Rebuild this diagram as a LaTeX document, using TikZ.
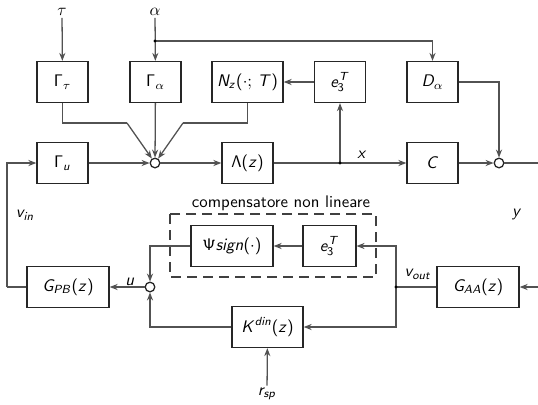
\documentclass[tikz,border=0pt]{standalone}
\usetikzlibrary{arrows.meta}
\usepackage{fix-cm}
\renewcommand\familydefault{\sfdefault}
\DeclareMathAlphabet{\mathsfsl}{OT1}{cmss}{m}{sl}
\newcommand\sfp[1]{\mbox{\sffamily #1}}
\newcommand\bodyfont{\fontsize{10.5}{12.6}\selectfont\sffamily}
\begin{document}
\begin{tikzpicture}[x=0.625pt,y=-0.625pt,
  line width=0.8pt,
  every node/.style={font=\bodyfont},
  wire/.style={draw=black!68},
  arr/.style={wire,-{Stealth[length=5pt,width=3.8pt]}},
  blk/.style={draw=black!85,line width=0.8pt,minimum width=31.9pt,minimum height=25.6pt,inner sep=0pt},
  wideblk/.style={blk,minimum width=44.4pt},
  widerblk/.style={blk,minimum width=51.25pt},
  sumn/.style={circle,draw=black!85,fill=white,minimum size=6pt,inner sep=0pt},
  dotn/.style={circle,fill=black,minimum size=2pt,inner sep=0pt},
  lbl/.style={inner sep=1pt}]
\useasboundingbox (0,0) rectangle (538,404);
% top row
\node[blk] (Gt) at (62.5,82) {$\mathsf{\Gamma}_\tau$};
\node[blk] (Ga) at (155.5,82) {$\mathsf{\Gamma}_\alpha$};
\node[wideblk] (Nz) at (247.5,82) {$\mathsfsl{N_z}\sfp{(}{\cdot};\,\mathsfsl{T}\sfp{)}$};
\node[blk] (E1) at (340,82) {$\mathsfsl{e}_{\mathsf{3}}^{\mathsfsl{T}}$};
\node[blk] (Da) at (432.5,82) {$\mathsfsl{D}_\alpha$};
% middle row
\node[blk] (Gu) at (62.5,163) {$\mathsf{\Gamma}_{\mathsfsl{u}}$};
\node[sumn] (s1) at (155,163) {};
\node[blk] (La) at (247.5,163) {$\mathsf{\Lambda}\sfp{(}\mathsfsl{z}\sfp{)}$};
\node[blk] (C) at (432.5,163) {$\mathsfsl{C}$};
\node[sumn] (s2) at (499,163) {};
% bottom
\node[widerblk] (GPB) at (68,287) {$\mathsfsl{G_{PB}}\sfp{(}\mathsfsl{z}\sfp{)}$};
\node[sumn] (s3) at (150,287) {};
\node[widerblk] (Psi) at (232,246) {$\mathsf{\Psi}\mathsfsl{sign}\sfp{(}{\cdot}\sfp{)}$};
\node[blk,minimum width=33pt] (E2) at (329.5,246) {$\mathsfsl{e}_{\mathsf{3}}^{\mathsfsl{T}}$};
\node[widerblk] (GAA) at (478,287) {$\mathsfsl{G_{AA}}\sfp{(}\mathsfsl{z}\sfp{)}$};
\node[wideblk] (K) at (267.5,327) {$\mathsfsl{K}^{\mathsfsl{din}}\sfp{(}\mathsfsl{z}\sfp{)}$};
% dashed compensator
\draw[draw=black!75,dash pattern=on 6pt off 4pt] (170,214) rectangle (376,277);
\node[lbl] (comp) at (281,203) {compensatore non lineare};
% labels
\node[lbl] (tau) at (62,12) {$\tau$};
\node[lbl] (alpha) at (155,12) {$\alpha$};
\node[lbl] (rsp) at (267,394) {$\mathsfsl{r_{sp}}$};
\node[lbl] at (362,155) {$\mathsfsl{x}$};
\node[lbl] at (25,215) {$\mathsfsl{v_{in}}$};
\node[lbl] at (517,214) {$\mathsfsl{y}$};
\node[lbl] at (130,282) {$\mathsfsl{u}$};
\node[lbl] at (418,274) {$\mathsfsl{v_{out}}$};
% coordinates
\coordinate (ab) at (155,41);
\coordinate (xb) at (340,163);
\coordinate (vb) at (396,287);
\coordinate (t1) at (127,123);
\coordinate (n1) at (183,123);
\coordinate (fbl) at (7,287);
\coordinate (yout) at (538,163);
\coordinate (yin) at (538,287);
% top connections
\draw[arr] (tau) -- (Gt);
\draw[arr] (alpha) -- (Ga);
\draw[arr] (ab) -| (Da);
\draw[wire] (Gt.south) |- (t1);
\draw[arr] (t1) -- (s1);
\draw[arr] (Ga) -- (s1);
\draw[wire] (Nz.south) |- (n1);
\draw[arr] (n1) -- (s1);
\draw[arr] (E1) -- (Nz);
\draw[arr] (xb) -- (E1);
\draw[arr] (Da) -| (s2);
% middle
\draw[arr] (Gu) -- (s1);
\draw[arr] (s1) -- (La);
\draw[wire] (La) -- (xb);
\draw[arr] (xb) -- (C);
\draw[arr] (C) -- (s2);
\draw[wire] (s2) -- (yout);
% bottom
\draw[wire] (GPB.west) -- (fbl);
\draw[arr] (fbl) |- (Gu);
\draw[arr] (s3) -- (GPB);
\draw[arr] (Psi) -| (s3);
\draw[arr] (K) -| (s3);
\draw[arr] (E2) -- (Psi);
\draw[arr] (yin) -- (GAA);
\draw[wire] (GAA) -- (vb);
\draw[arr] (vb) |- (E2);
\draw[arr] (vb) |- (K);
\draw[arr] (rsp) -- (K);
% dots
\node[dotn] at (ab) {};
\node[dotn] at (xb) {};
\node[dotn] at (vb) {};
\end{tikzpicture}
\end{document}
